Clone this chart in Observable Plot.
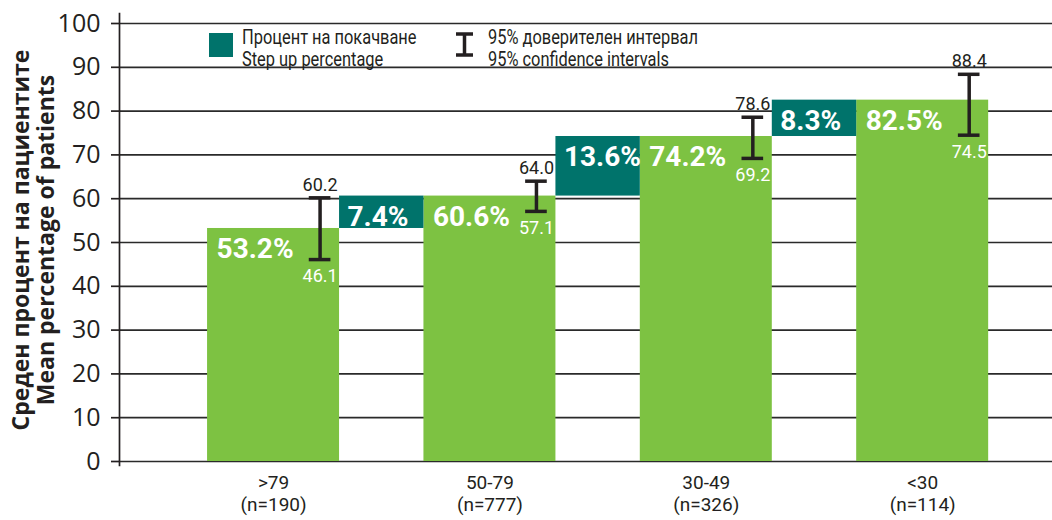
<!DOCTYPE html>
<html>
<head>
<meta charset="utf-8">
<script src="https://cdn.jsdelivr.net/npm/d3@7"></script>
<script src="https://cdn.jsdelivr.net/npm/@observablehq/plot@0.6"></script>
<style>
  body { margin: 0; background: #fff; }
  #wrap { position: relative; width: 1052px; height: 520px; overflow: hidden; }
  #legend { position: absolute; left: 209px; top: 26px; color: #231f20; font-family: Roboto, sans-serif; font-size: 20px; line-height: 22px; }
  #legend .item { position: absolute; top: 0; white-space: nowrap; }
  #legend .txt { transform: scaleX(0.82); transform-origin: 0 0; }
  #ytitle { position: absolute; left: -186px; top: 214px; width: 440px; height: 52px; transform: rotate(-90deg);
            text-align: center; font-family: "Open Sans", sans-serif; font-weight: bold; font-size: 23px; line-height: 25px; color: #231f20; }
</style>
</head>
<body>
<div id="wrap">
  <div id="chart"></div>
  <div id="ytitle"></div>
  <div id="legend"></div>
</div>
<script>
// ---- data ----
const categories = [">79", "50-79", "30-49", "<30"];
const sampleSizes = ["(n=190)", "(n=777)", "(n=326)", "(n=114)"];
const means = [53.2, 60.6, 74.2, 82.5];
const ciLow = [46.1, 57.1, 69.2, 74.5];
const ciHigh = [60.2, 64.0, 78.6, 88.4];
const stepUps = [7.4, 13.6, 8.3];
const yTicks = [0, 10, 20, 30, 40, 50, 60, 70, 80, 90, 100];
const titleLines = ["Среден процент на пациентите", "Mean percentage of patients"];
const legendStep = ["Процент на покачване", "Step up percentage"];
const legendCI = ["95% доверителен интервал", "95% confidence intervals"];

// ---- styles ----
const green = "#7dc242", teal = "#00736b", dark = "#231f20";
const narrow = "Roboto, sans-serif";
const hw = 0.305;   // half bar width (in category units)
const eo = 0.215;   // error bar offset
const cw = 0.05;    // cap half width

const idx = d3.range(categories.length);
const stepIdx = d3.range(stepUps.length);

const chart = Plot.plot({
  width: 1052,
  height: 520,
  marginLeft: 119,
  marginRight: 0,
  marginTop: 23,
  marginBottom: 59,
  style: { fontFamily: narrow, background: "white" },
  x: { domain: [-0.712, 3.60], axis: null },
  y: { domain: [0, 100] },
  marks: [
    Plot.gridY(yTicks, { stroke: "#2a2a2a", strokeOpacity: 1, strokeWidth: 1.7 }),
    Plot.frame({ anchor: "left", stroke: dark, strokeWidth: 1.7, insetTop: -10, insetBottom: -4 }),
    Plot.axisY({ ticks: yTicks, tickSize: 8, tickPadding: 11, fontSize: 25, fontFamily: "'Open Sans', sans-serif",
                 fill: dark, stroke: dark, strokeWidth: 1.7, label: null }),
    Plot.rect(idx, { x1: i => i - hw, x2: i => i + hw, y1: () => 0, y2: i => means[i], fill: green }),
    Plot.rect(stepIdx, { x1: i => i + hw, x2: i => i + 1 - hw, y1: i => means[i], y2: i => means[i + 1], fill: teal }),
    Plot.text(idx, { ariaLabel: "bold-label", x: i => i - hw, y: i => means[i], text: i => means[i].toFixed(1) + "%", textAnchor: "start",
                     dx: 9, dy: 21, fill: "white", fontWeight: "bold", fontSize: 28 }),
    Plot.text(stepIdx, { ariaLabel: "bold-label", x: i => i + hw, y: i => means[i + 1], text: i => stepUps[i].toFixed(1) + "%", textAnchor: "start",
                         dx: 8, dy: 21, fill: "white", fontWeight: "bold", fontSize: 28 }),
    Plot.ruleX(idx, { x: i => i + eo, y1: i => ciLow[i], y2: i => ciHigh[i], stroke: dark, strokeWidth: 3.5 }),
    Plot.ruleY(idx, { y: i => ciHigh[i], x1: i => i + eo - cw, x2: i => i + eo + cw, stroke: dark, strokeWidth: 3.5 }),
    Plot.ruleY(idx, { y: i => ciLow[i], x1: i => i + eo - cw, x2: i => i + eo + cw, stroke: dark, strokeWidth: 3.5 }),
    Plot.text(idx, { ariaLabel: "ci-label", x: i => i + eo, y: i => ciHigh[i], text: i => ciHigh[i].toFixed(1), dy: -13, fill: dark, fontSize: 18 }),
    Plot.text(idx, { ariaLabel: "ci-label", x: i => i + eo, y: i => ciLow[i], text: i => ciLow[i].toFixed(1), dy: 17, fill: "white", fontSize: 18 }),
    Plot.text(idx, { ariaLabel: "x-label", x: i => i, frameAnchor: "bottom", text: i => categories[i],
                     dy: 27, fill: dark, fontSize: 19 }),
    Plot.text(idx, { ariaLabel: "x-label", x: i => i, frameAnchor: "bottom", text: i => sampleSizes[i],
                     dy: 49, fill: dark, fontSize: 19 })
  ]
});

// condense text horizontally (the original uses a condensed typeface)
function condense(label, s) {
  chart.querySelectorAll(`g[aria-label="${label}"] text`).forEach(t => {
    const tr = t.getAttribute("transform");
    if (tr) t.setAttribute("transform", tr + ` scale(${s},1)`);
    else {
      const x = +t.getAttribute("x") || 0;
      t.setAttribute("transform", `translate(${x},0) scale(${s},1) translate(${-x},0)`);
    }
  });
}
condense("bold-label", 0.89);
condense("ci-label", 0.83);
condense("x-label", 0.8);
document.getElementById("chart").append(chart);

// y title
document.getElementById("ytitle").innerHTML = titleLines.join("<br>");

// legend
const legend = document.getElementById("legend");
legend.innerHTML = `
  <div class="item" style="left:0;top:7px;width:24px;height:24px;background:${teal}"></div>
  <div class="item txt" style="left:33px">${legendStep.join("<br>")}</div>
  <svg class="item" style="left:246px;top:6px" width="19" height="25">
    <line x1="1" x2="18" y1="2" y2="2" stroke="${dark}" stroke-width="3.5"/>
    <line x1="9.5" x2="9.5" y1="2" y2="23" stroke="${dark}" stroke-width="3.5"/>
    <line x1="1" x2="18" y1="23" y2="23" stroke="${dark}" stroke-width="3.5"/>
  </svg>
  <div class="item txt" style="left:279px">${legendCI.join("<br>")}</div>`;
</script>
</body>
</html>
